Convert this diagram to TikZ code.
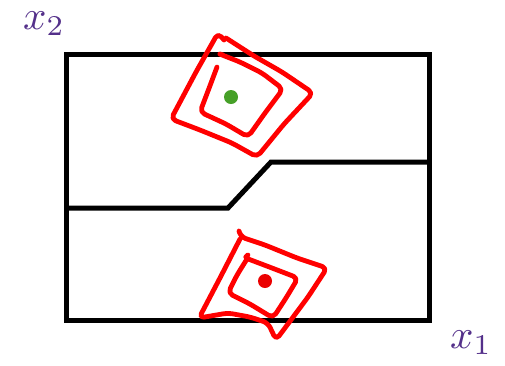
\documentclass[tikz,border=0pt]{standalone}
\usepackage{fontspec}
\usepackage{graphicx}
\definecolor{scred}{RGB}{255,0,0}
\definecolor{dotgreen}{RGB}{70,160,40}
\definecolor{dotred}{RGB}{235,0,0}
\definecolor{labelpurple}{RGB}{84,48,138}
\begin{document}
\begin{tikzpicture}[x=1pt,y=-1pt,
  frame/.style={line width=5pt, line cap=rect, line join=miter},
  scribble/.style={draw=scred, line width=4.8pt, line cap=round, line join=round, rounded corners=5pt},
  axislabel/.style={text=labelpurple, inner sep=0pt}]
\useasboundingbox (0,0) rectangle (505,365);
% outer box
\draw[frame] (66,54) rectangle (429,320);
% boundary
\draw[frame, line cap=butt] (66,208) -- (228,208) -- (271,162) -- (429,162);
% top scribble
\draw[scribble] (224,40) -- (218,33) -- (196,72) -- (171,119) -- (200,130) -- (232,143) -- (257,157) -- (284,124) -- (313,93) -- (282,72) -- (254,56) -- (226,38);
\draw[scribble] (223,55) -- (217,53) -- (240,62) -- (262,73) -- (283,89) -- (265,113) -- (248,137) -- (226,124) -- (200,112) -- (208,91) -- (217,67);
\fill[dotgreen] (231,97) circle (7);
% bottom scribble
\draw[scribble] (239,231) -- (241,237) -- (265,245) -- (297,258) -- (327,268) -- (308,297) -- (276,340) -- (268,323) -- (250,317) -- (228,313) -- (199,318) -- (221,276) -- (240,239);
\draw[scribble] (248,255) -- (243,257) -- (272,268) -- (298,278) -- (286,298) -- (273,318) -- (250,304) -- (228,293) -- (237,275) -- (247,259);
\fill[dotred] (265,281) circle (7);
% labels
\node[axislabel] (xtwo) at (44,24) {\scalebox{4.1}{$x_2$}};
\node[axislabel] (xone) at (471,343) {\scalebox{4.1}{$x_1$}};
\end{tikzpicture}
\end{document}
